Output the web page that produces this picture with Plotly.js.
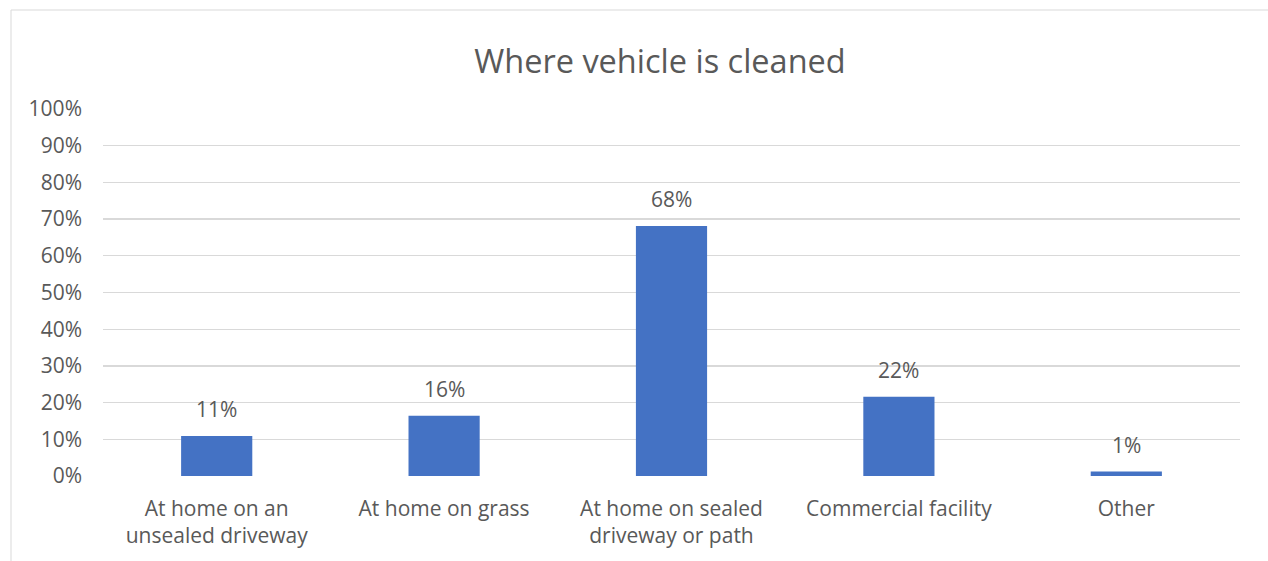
<!DOCTYPE html>
<html>
<head>
<meta charset="utf-8">
<script src="https://cdn.plot.ly/plotly-3.0.1.min.js"></script>
<style>html,body{margin:0;padding:0;background:#fff;}#chart{width:1268px;height:561px;}</style>
</head>
<body>
<div id="chart"></div>
<script>
const categories = ["At home on an<br>unsealed driveway", "At home on grass", "At home on sealed<br>driveway or path", "Commercial facility", "Other"];
const values = [10.9, 16.4, 68.1, 21.6, 1.2];
const labels = ["11%", "16%", "68%", "22%", "1%"];
const tickVals = [0, 10, 20, 30, 40, 50, 60, 70, 80, 90, 100];
const tickText = ["0%", "10%", "20%", "30%", "40%", "50%", "60%", "70%", "80%", "90%", "100%"];

const FONT = "'Open Sans', Lato, sans-serif";
const GREY = "#595959";

const trace = {
  type: "bar",
  x: categories,
  y: values,
  marker: {color: "#4472C4"},
  hoverinfo: "none"
};

const annotations = categories.map((c, i) => ({
  x: c, y: values[i], xref: "x", yref: "y",
  text: labels[i], showarrow: false,
  yanchor: "bottom", yshift: 11,
  font: {family: FONT, size: 21, color: GREY}
}));

const layout = {
  width: 1268, height: 561,
  margin: {l: 103, r: 28, t: 109, b: 85},
  paper_bgcolor: "#fff", plot_bgcolor: "#fff",
  title: {text: "Where vehicle is cleaned", font: {family: FONT, size: 32.5, color: GREY},
          xref: "container", x: 0.5205, xanchor: "center", yref: "container", y: 1 - 62/561, yanchor: "middle"},
  bargap: 0.687,
  showlegend: false,
  xaxis: {type: "category", showgrid: false, zeroline: false, showline: false, ticks: "",
          tickfont: {family: FONT, size: 21, color: GREY}, ticklabelstandoff: 18, automargin: false},
  yaxis: {range: [0, 100], tickvals: tickVals, ticktext: tickText, showgrid: true, gridcolor: "#d9d9d9", gridwidth: 1.3,
          zeroline: false, showline: false, ticks: "", ticklabelstandoff: 20,
          tickfont: {family: FONT, size: 21, color: GREY}, automargin: false},
  annotations: annotations,
  shapes: [
    {type: "line", xref: "paper", yref: "paper", x0: (11 - 103)/1137, x1: (11 - 103)/1137, y0: -0.3, y1: (476 - 10)/367,
     line: {color: "#d9d9d9", width: 1}},
    {type: "line", xref: "paper", yref: "paper", x0: (11 - 103)/1137, x1: 1.1, y0: (476 - 10)/367, y1: (476 - 10)/367,
     line: {color: "#d9d9d9", width: 1}}
  ]
};

Plotly.newPlot("chart", [trace], layout, {staticPlot: true, displayModeBar: false});
</script>
</body>
</html>
